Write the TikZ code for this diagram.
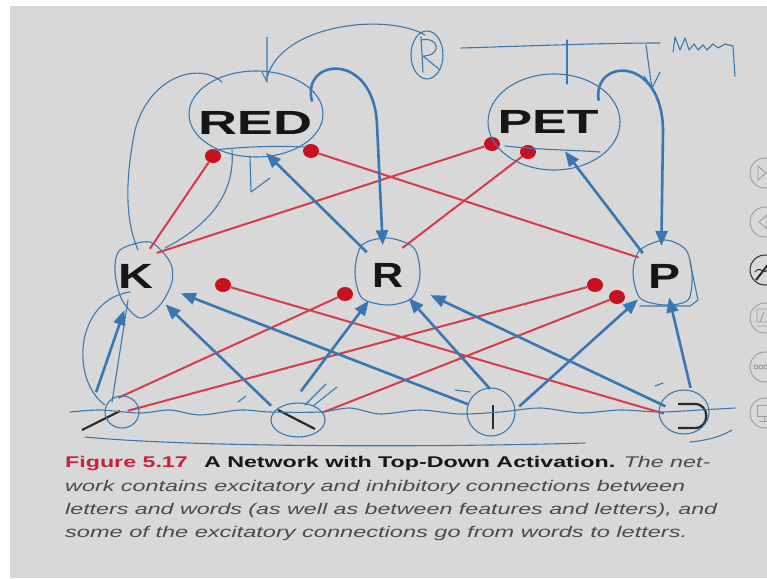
\documentclass[tikz,border=0pt]{standalone}
\usepackage{fontspec}
\setmainfont{Liberation Sans}
\usetikzlibrary{arrows.meta,shapes.geometric,calc}
\definecolor{bg}{HTML}{D8D8D8}
\definecolor{exblue}{HTML}{3A76B1}
\definecolor{penblue}{HTML}{3A79B0}
\definecolor{inred}{HTML}{D63C4A}
\definecolor{dotred}{HTML}{C8101E}
\definecolor{figred}{HTML}{C8223A}
\definecolor{capgray}{HTML}{4A4A4A}
\definecolor{inkdark}{HTML}{161616}
\definecolor{glyphdark}{HTML}{2A2A2A}
\definecolor{icongray}{HTML}{9C9C9C}
\begin{document}
\begin{tikzpicture}[x=1pt,y=-1pt,
  word/.style={ellipse, minimum width=130pt, minimum height=60pt, inner sep=0pt, text=inkdark,
    font=\fontsize{33.5}{36}\selectfont\bfseries},
  letter/.style={ellipse, minimum width=64pt, minimum height=60pt, inner sep=0pt, text=inkdark,
    font=\fontsize{35}{38}\selectfont\bfseries},
  feat/.style={circle, minimum size=56pt, inner sep=0pt},
  dot/.style={ellipse, fill=dotred, minimum width=16pt, minimum height=14pt, inner sep=0pt},
  exc/.style={exblue, line width=2.6pt, -{Triangle[length=15pt,width=12pt]}},
  inh/.style={inred, line width=2pt},
  pen/.style={penblue, line width=1.1pt, line cap=round, line join=round},
  glyph/.style={glyphdark, line width=2.2pt},
  icon/.style={icongray, line width=0.9pt},
  capline/.style={anchor=base west, inner sep=0pt, font=\fontsize{15.5}{18}\selectfont}
]
\useasboundingbox (0,0) rectangle (767,578);
\clip (0,0) rectangle (767,578);
\fill[white] (0,0) rectangle (767,578);
\fill[bg] (10,6) rectangle (767,578);

% ---------- nodes ----------
\node[word] (RED) at (255,123) {\resizebox{114pt}{\height}{RED}};
\node[word] (PET) at (548,122) {\resizebox{101pt}{\height}{PET}};
\node[letter] (K) at (136,276) {\resizebox{35pt}{\height}{K}};
\node[letter] (R) at (388,275) {\resizebox{31pt}{\height}{R}};
\node[letter] (P) at (664,276) {\resizebox{32pt}{\height}{P}};
\node[feat] (fs) at (101,420) {};
\node[feat] (fb) at (296,419) {};
\node[feat] (fv) at (493,417) {};
\node[feat] (fc) at (692,416) {};

% inhibitory dots
\node[dot] (dRa) at (213,156) {};
\node[dot] (dRb) at (311,151) {};
\node[dot] (dPa) at (492,144) {};
\node[dot] (dPb) at (528,152) {};
\node[dot] (dK) at (223,285) {};
\node[dot] (dR) at (345,294) {};
\node[dot] (dP1) at (595,285) {};
\node[dot] (dP2) at (617,297) {};

% ---------- inhibitory connections ----------
\draw[inh] (K.63) -- (dRa);
\draw[inh] (K.48) -- (dPa);
\draw[inh] (R.62) -- (dPb);
\draw[inh] (P.144) -- (dRb);
\draw[inh] (fc.175) -- (dK);
\draw[inh] (fs.52) -- (dR);
\draw[inh] (fs.19) -- (dP1);
\draw[inh] (fb.14) -- (dP2);

% ---------- excitatory connections ----------
\draw[exc] (R.133) -- (RED.-70);
\draw[exc] (P.133) -- (PET.-60);
\draw[exc] (RED.north east) .. controls (300,58) and (374,50) .. (377,125) -- (R.100);
\draw[exc] (PET.north east) .. controls (592,58) and (662,55) .. (663,130) -- (P.95);
\draw[exc, shorten >=36pt] (fs.100) -- (K.center);
\draw[exc, shorten >=41pt] (fb.152) -- (K.center);
\draw[exc, shorten >=48pt] (fv.153) -- (K.center);
\draw[exc, shorten >=32pt] (fb.80) -- (R.center);
\draw[exc, shorten >=31pt] (fv.96) -- (R.center);
\draw[exc, shorten >=47pt] (fc.160) -- (R.center);
\draw[exc, shorten >=35pt] (fv.22) -- (P.center);
\draw[exc, shorten >=22pt] (fc.93) -- (P.center);

% ---------- feature glyphs ----------
\draw[glyph] ([shift={(-19,10)}]fs.center) -- ++(38,-19);
\draw[glyph] ([shift={(-18,-9)}]fb.center) -- ++(37,19);
\draw[glyph] ([shift={(0,-12)}]fv.center) -- ++(0,24);
\draw[glyph] ([shift={(-14,-12)}]fc.center) -- ++(17,0) .. controls +(15,0) and +(15,0) .. ++(0,24) -- ++(-17,0);

% ---------- pen annotations ----------
\draw[pen] (256,114) ellipse [x radius=67pt, y radius=43pt];
\draw[pen] (214,150) .. controls (250,146) and (280,146) .. (306,147);
\draw[pen] (554,122) ellipse [x radius=66pt, y radius=48pt];
\draw[pen] (505,146) .. controls (540,150) and (575,150) .. (600,152);
\draw[pen] plot[smooth cycle] coordinates {(120,250) (150,242) (170,262) (172,282) (160,305) (140,318) (122,300) (115,272)};
\draw[pen] plot[smooth cycle] coordinates {(362,245) (388,238) (414,248) (420,275) (412,298) (388,305) (362,298) (355,272)};
\draw[pen] plot[smooth cycle] coordinates {(640,250) (665,240) (686,250) (692,275) (688,300) (665,305) (640,298) (633,272)};
\draw[pen] (690,262) -- (698,300) -- (690,306) -- (640,306);
\draw[pen] (122,412) ellipse [x radius=17pt, y radius=16pt];
\draw[pen] (298,420) ellipse [x radius=27pt, y radius=17pt];
\draw[pen] (491,412) ellipse [x radius=24pt, y radius=24pt];
\draw[pen] (684,412) ellipse [x radius=25pt, y radius=22pt];
\draw[pen] plot[smooth] coordinates {(70,412) (100,410) (140,413) (170,410) (200,415) (240,410) (270,412) (320,412) (350,408) (380,414) (420,410) (460,414) (500,412) (540,408) (580,413) (620,410) (660,412) (700,410) (735,408)};
\draw[pen] (85,437) .. controls (200,448) and (450,447) .. (585,443);
\draw[pen] (690,442) .. controls (710,440) and (722,436) .. (732,430);
% top scribbles
\draw[pen] (267,78) .. controls (280,25) and (385,12) .. (425,35);
\draw[pen] (427,55) ellipse [x radius=16pt, y radius=24pt];
\draw[pen] (421,37) -- (423,72);
\draw[pen] (421,40) .. controls (440,36) and (442,56) .. (423,56) -- (440,70);
\draw[pen] (267,37) -- (267,82) -- (262,72);
\draw[pen] (461,48) .. controls (530,46) and (600,43) .. (660,43);
\draw[pen] (567,40) -- (567,84);
\draw[pen] (646,45) .. controls (648,60) and (650,75) .. (652,88) (644,76) -- (652,88) -- (660,72);
\draw[pen] (673,52) -- (675,37) -- (680,50) -- (685,38) -- (689,50) -- (694,44) -- (698,50) -- (703,45) -- (707,50) -- (713,44) -- (718,48) -- (725,44) -- (733,46) -- (735,76);
% side loops
\draw[pen] (222,82) .. controls (200,62) and (150,75) .. (135,130) .. controls (125,180) and (125,220) .. (138,250);
\draw[pen] (232,150) .. controls (236,200) and (200,230) .. (165,248);
\draw[pen] (250,156) -- (251,192) -- (270,178);
\draw[pen] (130,292) .. controls (75,300) and (70,380) .. (105,405);
\draw[pen] (128,300) -- (112,402);
\draw[pen] (305,405) -- (326,384) (313,406) -- (337,387);
\draw[pen] (238,402) -- (246,396) (455,390) -- (470,392) (655,386) -- (663,383);

% ---------- side icons ----------
\foreach \yy in {173,222,318,367,413} \draw[icon] (765,\yy) circle (15pt);
\draw[glyphdark, line width=1pt] (765,270) circle (15pt);
\draw[icon] (758,166) -- (758,180) -- (766,173) -- cycle;
\draw[icon] (767,215) -- (767,229) -- (759,222) -- cycle;
\draw[glyphdark, line width=2pt] (756,280) -- (770,262);
\draw[glyphdark, line width=1pt] (755,272) .. controls (760,265) and (764,275) .. (768,270);
\draw[icon] (757,309) rectangle (771,322) (757,326) -- (771,326) (764,312) -- (760,322);
\foreach \xx in {756,761,766} \draw[icon] (\xx,367) circle (2pt);
\draw[icon] (757,405) rectangle (772,416) (764,416) -- (764,421) (759,421) -- (769,421);

% ---------- caption ----------
\node[capline] (cap1) at (65,467) {\resizebox{645pt}{\height}{{\bfseries\color{figred}Figure 5.17}\hspace{0.7em}{\bfseries\color{inkdark}A Network with Top-Down Activation.} {\itshape\color{capgray}The net-}}};
\node[capline] (cap2) at (65,491) {\resizebox{620pt}{\height}{\itshape\color{capgray}work contains excitatory and inhibitory connections between}};
\node[capline] (cap3) at (65,514) {\resizebox{652pt}{\height}{\itshape\color{capgray}letters and words (as well as between features and letters), and}};
\node[capline] (cap4) at (65,537) {\resizebox{622pt}{\height}{\itshape\color{capgray}some of the excitatory connections go from words to letters.}};
\end{tikzpicture}
\end{document}
